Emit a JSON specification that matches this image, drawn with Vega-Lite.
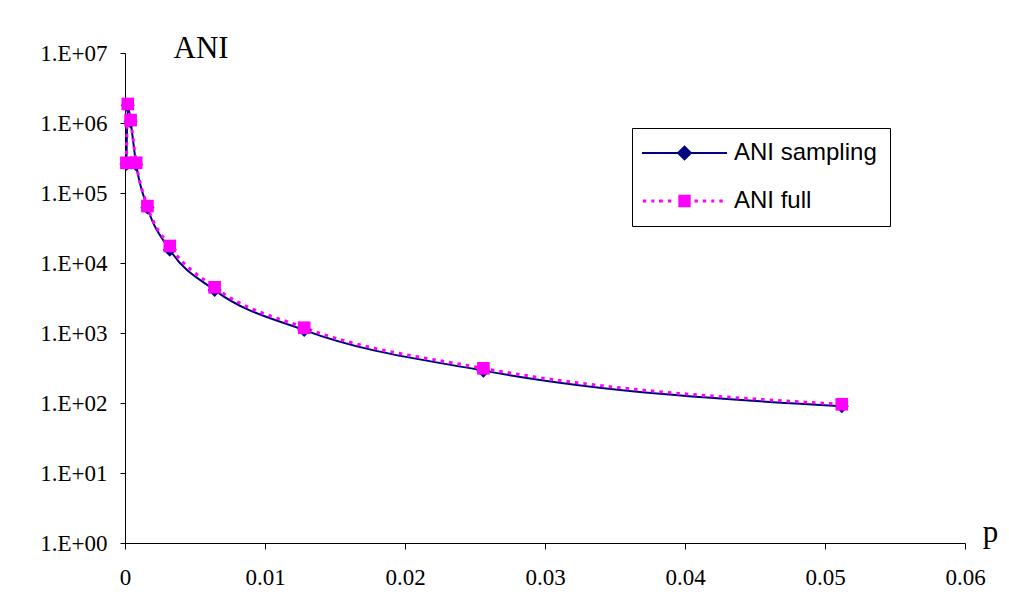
{
  "$schema": "https://vega.github.io/schema/vega-lite/v6.json",
  "autosize": {"type": "none"},
  "width": 840,
  "height": 490,
  "padding": {"left": 125, "top": 53, "right": 44, "bottom": 69},
  "background": "white",
  "config": {
    "view": {"stroke": null},
    "axis": {
      "domainColor": "black",
      "domainWidth": 1,
      "tickColor": "black",
      "tickWidth": 1,
      "grid": false,
      "labelFont": "Liberation Serif",
      "labelFontSize": 23,
      "labelColor": "black",
      "titleFont": "Liberation Serif",
      "titleFontWeight": "normal",
      "titleColor": "black"
    },
    "legend": {
      "labelFont": "Liberation Sans",
      "labelFontSize": 24,
      "labelColor": "black"
    }
  },
  "data": {
    "values": [
      {"p": 0.0001, "ANI": 260000, "series": "ANI sampling"},
      {"p": 0.0002, "ANI": 1800000, "series": "ANI sampling"},
      {"p": 0.0004, "ANI": 1050000, "series": "ANI sampling"},
      {"p": 0.0008, "ANI": 255000, "series": "ANI sampling"},
      {"p": 0.0016, "ANI": 62000, "series": "ANI sampling"},
      {"p": 0.0032, "ANI": 15500, "series": "ANI sampling"},
      {"p": 0.0064, "ANI": 4100, "series": "ANI sampling"},
      {"p": 0.0128, "ANI": 1100, "series": "ANI sampling"},
      {"p": 0.0256, "ANI": 290, "series": "ANI sampling"},
      {"p": 0.0512, "ANI": 90, "series": "ANI sampling"},
      {"p": 0.0001, "ANI": 270000, "series": "ANI full"},
      {"p": 0.0002, "ANI": 1870000, "series": "ANI full"},
      {"p": 0.0004, "ANI": 1100000, "series": "ANI full"},
      {"p": 0.0008, "ANI": 270000, "series": "ANI full"},
      {"p": 0.0016, "ANI": 65000, "series": "ANI full"},
      {"p": 0.0032, "ANI": 17500, "series": "ANI full"},
      {"p": 0.0064, "ANI": 4500, "series": "ANI full"},
      {"p": 0.0128, "ANI": 1190, "series": "ANI full"},
      {"p": 0.0256, "ANI": 313, "series": "ANI full"},
      {"p": 0.0512, "ANI": 96, "series": "ANI full"}
    ]
  },
  "encoding": {
    "x": {
      "field": "p",
      "type": "quantitative",
      "scale": {"domain": [0, 0.06], "nice": false, "zero": false},
      "axis": {
        "values": [0, 0.01, 0.02, 0.03, 0.04, 0.05, 0.06],
        "format": "~g",
        "tickSize": 6,
        "labelPadding": 17,
        "labelFlush": false,
        "title": "p",
        "titleFontSize": 31,
        "titleX": 865,
        "titleY": -2,
        "titleAlign": "center",
        "titleBaseline": "alphabetic"
      }
    },
    "y": {
      "field": "ANI",
      "type": "quantitative",
      "scale": {"type": "log", "domain": [1, 10000000], "nice": false},
      "axis": {
        "values": [1, 10, 100, 1000, 10000, 100000, 1000000, 10000000],
        "labelExpr": "'1.E+' + (round(log(datum.value)/LN10) < 10 ? '0' : '') + round(log(datum.value)/LN10)",
        "tickSize": 5,
        "labelPadding": 13,
        "labelFlush": false,
        "title": "ANI",
        "titleAngle": 0,
        "titleFontSize": 31,
        "titleX": 48,
        "titleY": 4,
        "titleAlign": "left",
        "titleBaseline": "alphabetic"
      }
    }
  },
  "layer": [
    {
      "transform": [{"filter": "datum.series === 'ANI sampling'"}],
      "mark": {"type": "line", "color": "#000080", "strokeWidth": 2, "interpolate": "monotone"}
    },
    {
      "transform": [{"filter": "datum.series === 'ANI full'"}],
      "mark": {"type": "line", "color": "#FF00FF", "strokeWidth": 3, "strokeDash": [3.5, 5], "interpolate": "monotone"}
    },
    {
      "transform": [{"filter": "datum.series === 'ANI sampling'"}],
      "mark": {"type": "point", "shape": "diamond", "size": 196, "filled": true, "opacity": 1, "strokeWidth": 0},
      "encoding": {
        "color": {
          "field": "series",
          "type": "nominal",
          "scale": {"domain": ["ANI sampling", "ANI full"], "range": ["#000080", "#FF00FF"]},
          "legend": {
            "title": null,
            "orient": "none",
            "legendX": 507,
            "legendY": 75,
            "strokeColor": "black",
            "fillColor": "white",
            "padding": 13,
            "cornerRadius": 0,
            "symbolStrokeWidth": 2,
            "symbolOpacity": 1,
            "labelOffset": 65,
            "rowPadding": 24,
            "encode": {
              "symbols": {
                "update": {
                  "shape": {"signal": "datum.value === 'ANI sampling' ? 'M-1,0H1M-0.15,0L0,-0.15L0.15,0L0,0.15Z' : 'M-0.98,0H-0.9M-0.78,0H-0.71M-0.6,0H-0.51M-0.39,0H-0.31M-0.11,-0.11H0.11V0.11H-0.11ZM0.235,0H0.315M0.43,0H0.51M0.63,0H0.7M0.82,0H0.9'"},
                  "size": {"value": 7225},
                  "x": {"value": 39.5},
                  "strokeWidth": {"signal": "datum.value === 'ANI sampling' ? 2 : 3"},
                  "stroke": {"signal": "datum.value === 'ANI sampling' ? '#000080' : '#FF00FF'"},
                  "fill": {"signal": "datum.value === 'ANI sampling' ? '#000080' : '#FF00FF'"},
                  "opacity": {"value": 1}
                }
              }
            }
          }
        }
      }
    },
    {
      "transform": [{"filter": "datum.series === 'ANI full'"}],
      "mark": {"type": "point", "shape": "square", "size": 160, "filled": true, "opacity": 1, "strokeWidth": 0},
      "encoding": {
        "color": {
          "field": "series",
          "type": "nominal",
          "scale": {"domain": ["ANI sampling", "ANI full"], "range": ["#000080", "#FF00FF"]}
        }
      }
    }
  ]
}
